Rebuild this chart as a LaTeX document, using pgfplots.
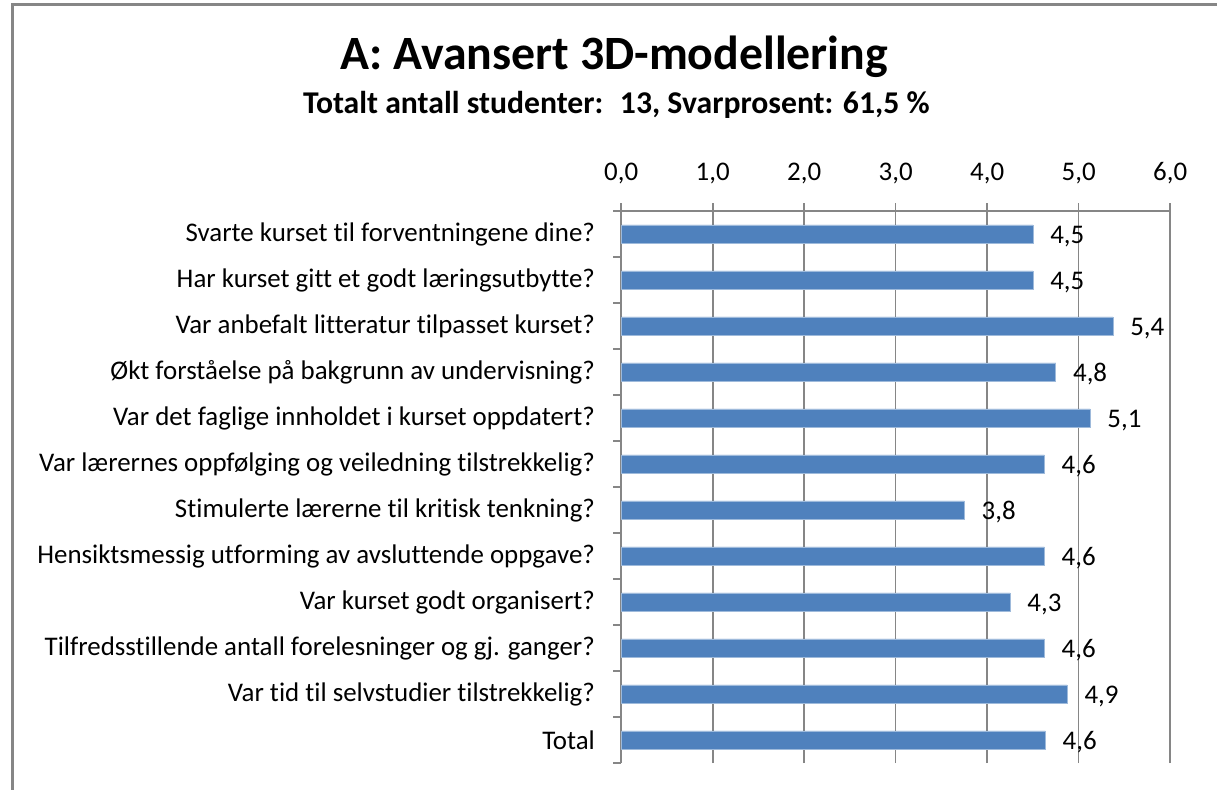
\documentclass[border=0pt]{standalone}
\usepackage{fontspec}
\setmainfont{Carlito}[Ligatures=NoCommon]
\usepackage{pgfplots}
\pgfplotsset{compat=1.18}
\definecolor{barblue}{HTML}{4F81BD}
\definecolor{gridgrey}{HTML}{868686}

\begin{document}
\pgfkeys{/pgf/number format/.cd, fixed, fixed zerofill, precision=1, use comma, assume math mode=true}
\begin{tikzpicture}
\begin{axis}[
	at={(309.5pt,13pt)}, anchor=south west,
	scale only axis, width=275.5pt, height=277pt,
	xbar, bar width=9.25pt,
	xmin=0, xmax=6, ymin=-0.5, ymax=11.5,
	axis x line*=top, axis y line*=left,
	axis line style={gridgrey, line width=0.8pt},
	xtick={0,...,6}, xmajorgrids, grid style={gridgrey, line width=0.8pt},
	ytick={-0.5,0.5,...,11.5}, yticklabels={},
	extra y ticks={0,...,11},
	extra y tick labels={Total, Var tid til selvstudier tilstrekkelig?,
		Tilfredsstillende antall forelesninger og gj. ganger?,
		Var kurset godt organisert?,
		Hensiktsmessig utforming av avsluttende oppgave?,
		Stimulerte lærerne til kritisk tenkning?,
		Var lærernes oppfølging og veiledning tilstrekkelig?,
		Var det faglige innholdet i kurset oppdatert?,
		Økt forståelse på bakgrunn av undervisning?,
		Var anbefalt litteratur tilpasset kurset?,
		Har kurset gitt et godt læringsutbytte?,
		Svarte kurset til forventningene dine?},
	extra y tick style={major tick length=0pt,
		yticklabel style={anchor=east, inner sep=0pt, xshift=-13pt}},
	tick align=outside, major tick length=4pt,
	tick style={gridgrey, line width=0.8pt},
	tick label style={font=\fontsize{13.5}{16}\selectfont},
	xticklabel style={anchor=base, inner sep=0pt, yshift=11.5pt},
	nodes near coords,
	nodes near coords style={anchor=west, inner sep=0pt, xshift=8.5pt, yshift=-1pt,
		font=\fontsize{13.5}{16}\selectfont},
]
\addplot[fill=barblue, draw=barblue!55!white, line width=0.4pt] coordinates {
	(4.636,0) (4.875,1) (4.625,2) (4.25,3) (4.625,4) (3.75,5)
	(4.625,6) (5.125,7) (4.75,8) (5.375,9) (4.5,10) (4.5,11)};
\end{axis}
\node[anchor=base, font=\bfseries\fontsize{24}{28}\selectfont] at (306pt,361pt) {A: Avansert 3D-modellering};
\node[anchor=base, font=\bfseries\fontsize{15.9}{19}\selectfont] at (307pt,339pt) {Totalt antall studenter:~ 13, Svarprosent: 61,5 \%};
\draw[gridgrey, line width=1.5pt] (4pt,-10pt) -- (4pt,393.5pt) -- (620pt,393.5pt);
\pgfresetboundingbox
\path[use as bounding box] (0,0) rectangle (608.5pt,396pt);
\end{tikzpicture}
\end{document}
